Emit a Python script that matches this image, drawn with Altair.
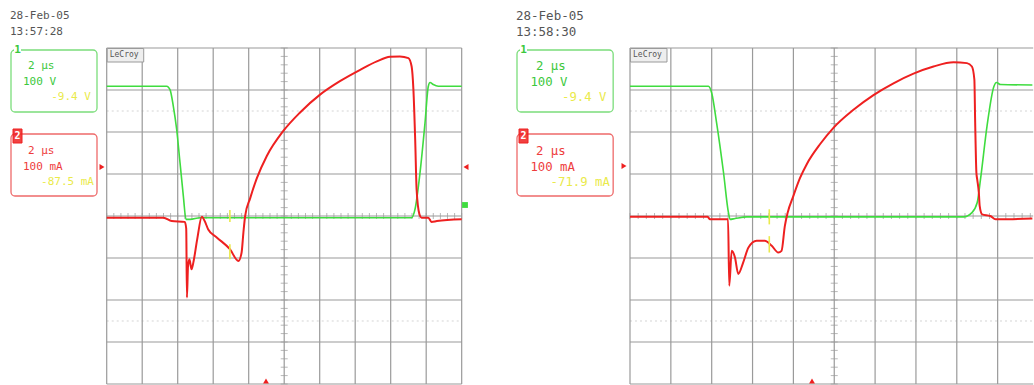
import altair as alt
import pandas as pd

# ---- trace data, in screen divisions (x: 0..10 time div, y: -4..4 vertical div) ----
# Capture 1 (13:57:28)
ch1_a_x = [0, 1.69, 1.783, 1.877, 1.971, 2.065, 2.159, 2.234, 2.35, 2.63, 5.0, 8.59,
           8.685, 8.826, 8.967, 9.06, 9.108, 9.2, 9.34, 10.0]
ch1_a_y = [3.09, 3.09, 3.01, 2.61, 2.06, 1.27, 0.475, -0.08, -0.08, -0.04, -0.04, -0.04,
           0.16, 1.03, 2.22, 3.09, 3.18, 3.13, 3.09, 3.09]
ch2_a_x = [0, 1.6, 1.83, 2.2, 2.24, 2.26, 2.29, 2.33, 2.39, 2.44, 2.55, 2.68, 2.76, 2.86,
           3.10, 3.47, 3.71, 3.80, 3.85, 3.90, 4.04, 4.23, 4.51, 4.97, 5.44, 6.01, 6.57,
           7.14, 7.61, 7.98, 8.26, 8.50, 8.59, 8.64, 8.69, 8.73, 8.81, 8.87, 9.06, 9.15,
           9.3, 10.0]
ch2_a_y = [-0.04, -0.04, -0.12, -0.14, -0.3, -1.94, -1.2, -1.03, -1.27, -1.11, -0.55,
           -0.02, -0.12, -0.32, -0.51, -0.79, -1.07, -0.87, -0.4, 0.0, 0.42, 0.9, 1.43,
           2.02, 2.46, 2.89, 3.21, 3.48, 3.68, 3.79, 3.80, 3.76, 3.56, 3.01, 1.82, 0.63,
           0.04, -0.04, -0.04, -0.14, -0.12, -0.08]

# Capture 2 (13:58:30)
ch1_b_x = [0, 1.92, 2.0, 2.12, 2.29, 2.41, 2.45, 2.57, 2.86, 8.17, 8.37, 8.50, 8.58,
           8.74, 8.91, 8.97, 9.07, 9.85]
ch1_b_y = [3.09, 3.09, 2.93, 2.22, 1.03, 0.08, -0.08, -0.06, -0.02, -0.02, 0.08, 0.32,
           0.87, 2.14, 3.09, 3.18, 3.13, 3.12]
ch2_b_x = [0, 1.9, 1.96, 2.40, 2.43, 2.49, 2.57, 2.65, 2.77, 2.90, 3.10, 3.30, 3.47,
           3.63, 3.71, 3.79, 3.86, 4.00, 4.16, 4.33, 4.66, 4.98, 5.47, 5.96, 6.45, 6.94,
           7.43, 7.92, 8.25, 8.37, 8.43, 8.45, 8.48, 8.50, 8.54, 8.56, 8.62, 8.82, 8.95,
           9.07, 9.85]
ch2_b_y = [-0.02, -0.02, -0.08, -0.08, -1.66, -0.83, -0.99, -1.38, -1.11, -0.75, -0.59,
           -0.59, -0.71, -0.87, -0.83, -0.24, 0.08, 0.48, 0.90, 1.24, 1.72, 2.10, 2.53,
           2.88, 3.16, 3.39, 3.56, 3.66, 3.64, 3.56, 3.25, 2.22, 1.03, 0.87, 0.55, 0.24,
           0.04, 0.0, -0.08, -0.08, -0.06]

# cursor marks (x position, y segments)
cursor_a = {"x": 3.47, "segs": [(0.14, -0.14), (-0.67, -1.03)]}
cursor_b = {"x": 3.41, "segs": [(0.16, -0.20), (-0.48, -0.87)]}

# screen graticule
v_div_a = list(range(0, 11))
v_div_b = list(range(0, 10))
h_div = list(range(-4, 5))
minor_a = [i / 5 for i in range(0, 51)]
minor_b = [i / 5 for i in range(0, 50)]
minor_v = [i / 5 for i in range(-20, 21)]

# readouts
stamp_a = ["28-Feb-05", "13:57:28"]
stamp_b = ["28-Feb-05", "13:58:30"]
ch1_lines = ["2 µs", "100 V", "-9.4 V"]
ch2_lines_a = ["2 µs", "100 mA", "-87.5 mA"]
ch2_lines_b = ["2 µs", "100 mA", "-71.9 mA"]

GREEN = "#3fdc3f"
RED = "#ee2020"
YELLOW = "#eaea4a"
GRID = "#9a9a9a"
MONO = "DejaVu Sans Mono"
H = 385
Y_DOM = [-4.024, 5.143]
ONE = alt.Data(values=[{}])


def trace_df(xs, ys):
    return pd.DataFrame({"x": xs, "y": ys, "i": range(len(xs))})


def text(t, px, py, color, size, align="left", weight="normal"):
    return alt.Chart(ONE).mark_text(
        text=t, align=align, baseline="middle", font=MONO, fontSize=size,
        color=color, fontWeight=weight
    ).encode(x=alt.value(px), y=alt.value(py))


def box(x1, x2, y1, y2, stroke, fill="white", fill_op=0.0, radius=4, sw=1.3):
    return alt.Chart(ONE).mark_rect(
        fill=fill, fillOpacity=fill_op, stroke=stroke, strokeWidth=sw, cornerRadius=radius
    ).encode(x=alt.value(x1), x2=alt.value(x2), y=alt.value(y1), y2=alt.value(y2))


def marker(shape, px, py, color, size=34):
    return alt.Chart(ONE).mark_point(
        shape=shape, filled=True, size=size, color=color, opacity=1
    ).encode(x=alt.value(px), y=alt.value(py))


def panel(width, xdom, vdiv, minor_h, xmax, ch1, ch2, cursor, stamp, ch2_lines,
          ox, fs, fs_box, arrows):
    xs = alt.Scale(domain=xdom, nice=False, zero=False)
    ys = alt.Scale(domain=Y_DOM, nice=False, zero=False)
    X = lambda f: alt.X(f, type="quantitative", scale=xs, axis=None)
    Y = lambda f: alt.Y(f, type="quantitative", scale=ys, axis=None)

    vgrid = alt.Chart(pd.DataFrame({"v": vdiv, "lo": -4, "hi": 4})).mark_rule(
        color=GRID, strokeWidth=1.2).encode(x=X("v"), y=Y("lo"), y2=alt.Y2("hi"))
    hgrid = alt.Chart(pd.DataFrame({"h": h_div, "lo": 0, "hi": xmax})).mark_rule(
        color=GRID, strokeWidth=1.2).encode(y=Y("h"), x=X("lo"), x2=alt.X2("hi"))
    dots = alt.Chart(pd.DataFrame({"h": [2.5, -2.5], "lo": 0, "hi": xmax})).mark_rule(
        color="#d4d4d4", strokeWidth=1, strokeDash=[2, 3]).encode(
        y=Y("h"), x=X("lo"), x2=alt.X2("hi"))
    hticks = alt.Chart(pd.DataFrame({"t": minor_h, "z": 0})).mark_tick(
        orient="vertical", size=6, thickness=1, color=GRID).encode(x=X("t"), y=Y("z"))
    vticks = alt.Chart(pd.DataFrame({"t": minor_v, "c": 5})).mark_tick(
        orient="horizontal", size=7, thickness=1, color=GRID).encode(x=X("c"), y=Y("t"))

    g = alt.Chart(trace_df(*ch1)).mark_line(
        color=GREEN, strokeWidth=1.6, strokeJoin="round", interpolate="monotone").encode(
        x=X("x"), y=Y("y"), order="i:Q")
    r = alt.Chart(trace_df(*ch2)).mark_line(
        color=RED, strokeWidth=2.0, strokeJoin="round", interpolate="monotone").encode(
        x=X("x"), y=Y("y"), order="i:Q")

    cur_df = pd.DataFrame({"x": cursor["x"], "a": [s[0] for s in cursor["segs"]],
                           "b": [s[1] for s in cursor["segs"]]})
    cur = alt.Chart(cur_df).mark_rule(color=YELLOW, strokeWidth=1.6).encode(
        x=X("x"), y=Y("a"), y2=alt.Y2("b"))

    gx0 = (0 - xdom[0]) / (xdom[1] - xdom[0]) * width  # left edge of graticule
    logo = [
        box(gx0 + 0.5, gx0 + 37, 48.5, 62, "#9a9a9a", fill="#eeeeee", fill_op=1, radius=0, sw=1),
        text("LeCroy", gx0 + 3, 55, "#555555", 8),
    ]

    labels = [
        text(stamp[0], ox - 1, 16, "#555555", fs),
        text(stamp[1], ox - 1, 32, "#555555", fs),
        box(ox, ox + 86 * fs_box / 11, 50, 112, "#7bdd7b"),
        box(ox + 3, ox + 10, 44, 55, "white", fill="white", fill_op=1, radius=0, sw=0),
        text("1", ox + 6.5, 49.5, "#3cc83c", 11, align="center", weight="bold"),
        text(ch1_lines[0], ox + 17 * fs_box / 11, 66, "#3cc83c", fs_box),
        text(ch1_lines[1], ox + 12 * fs_box / 11, 82, "#3cc83c", fs_box),
        text(ch1_lines[2], ox + 80 * fs_box / 11, 97, YELLOW, fs_box, align="right"),
        box(ox, ox + 86 * fs_box / 11, 134, 196, "#ee6a6a"),
        box(ox + 2, ox + 11, 129, 143, RED, fill=RED, fill_op=0.85, radius=0, sw=1),
        text("2", ox + 6.5, 136, "white", 10, align="center", weight="bold"),
        text(ch2_lines[0], ox + 17 * fs_box / 11, 151, "#ee3c3c", fs_box),
        text(ch2_lines[1], ox + 12 * fs_box / 11, 167, "#ee3c3c", fs_box),
        text(ch2_lines[2], ox + 83 * fs_box / 11, 182, YELLOW, fs_box, align="right"),
    ]
    marks = [marker(*a) for a in arrows]

    return alt.layer(dots, vgrid, hgrid, hticks, vticks, g, r, cur,
                     *logo, *labels, *marks).properties(width=width, height=H)


left = panel(
    510, [-3.006, 11.361], v_div_a, minor_a, 10.0,
    (ch1_a_x, ch1_a_y), (ch2_a_x, ch2_a_y), cursor_a, stamp_a, ch2_lines_a,
    ox=11, fs=11, fs_box=11,
    arrows=[("triangle-right", 102, 167, RED), ("triangle-left", 466, 167, RED),
            ("square", 465, 205, GREEN), ("triangle-up", 266, 381, RED)],
)
right = panel(
    524, [-2.9376, 9.890], v_div_b, minor_b, 9.87,
    (ch1_b_x, ch1_b_y), (ch2_b_x, ch2_b_y), cursor_b, stamp_b, ch2_lines_b,
    ox=7, fs=12.5, fs_box=12.3,
    arrows=[("triangle-right", 114, 166, RED), ("triangle-up", 302, 381, RED)],
)

chart = (
    alt.hconcat(left, right, spacing=0, bounds="flush")
    .resolve_scale(x="independent", y="independent")
    .properties(padding=0, background="white")
    .configure_view(stroke="transparent", strokeWidth=0)
)

chart.save("out.html", embed_options={"renderer": "svg", "actions": False})
